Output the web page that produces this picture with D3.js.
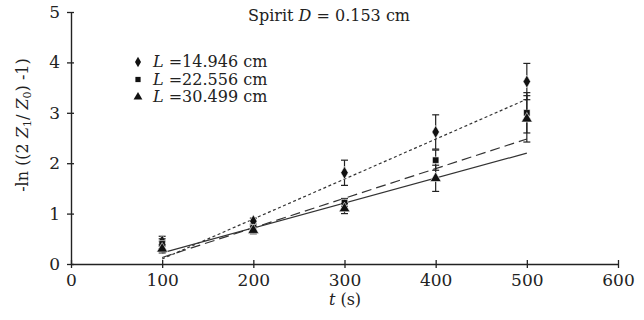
<!DOCTYPE html>
<html>
<head>
<meta charset="utf-8">
<script src="https://cdn.jsdelivr.net/npm/d3@7"></script>
<style>
body { margin: 0; background: #fff; }
svg text { font-family: "DejaVu Serif", "Liberation Serif", "Times New Roman", serif; fill: #222; }
</style>
</head>
<body>
<div id="chart"></div>
<script>
// data
var times = [100, 200, 300, 400, 500];
var xTicks = [0, 100, 200, 300, 400, 500, 600];
var yTicks = [0, 1, 2, 3, 4, 5];

var diamondVals = [0.45, 0.85, 1.81, 2.62, 3.62];
var diamondErr  = [0.10, 0.06, 0.25, 0.34, 0.36];
var squareVals  = [0.40, 0.72, 1.22, 2.06, 3.00];
var squareErr   = [0.10, 0.05, 0.08, 0.20, 0.40];
var triVals     = [0.30, 0.67, 1.10, 1.70, 2.88];
var triErr      = [0.08, 0.07, 0.10, 0.26, 0.46];

// linear trend lines, value at t=100 and t=500
var trendT = [100, 500];
var diamondTrend = [0.10, 3.27];
var squareTrend  = [0.13, 2.48];
var triTrend     = [0.22, 2.20];

var legendLabels = ["14.946", "22.556", "30.499"];

var width = 644, height = 320;
var svg = d3.select("#chart").append("svg")
	.attr("width", width)
	.attr("height", height);

var x = d3.scaleLinear().domain([0, 600]).range([71, 618]);
var y = d3.scaleLinear().domain([0, 5]).range([264, 12]);

// axes
var xAxis = svg.append("g")
	.attr("transform", "translate(0," + y(0) + ")")
	.call(d3.axisBottom(x).tickValues(xTicks).tickFormat(d3.format("d")).tickSizeInner(4).tickSizeOuter(0).tickPadding(6));
xAxis.selectAll(".tick line").attr("y1", -4);

var yAxis = svg.append("g")
	.attr("transform", "translate(" + x(0) + ",0)")
	.call(d3.axisLeft(y).tickValues(yTicks).tickFormat(d3.format("d")).tickSizeInner(4).tickSizeOuter(0).tickPadding(7));
yAxis.selectAll(".tick line").attr("x1", 3);

svg.selectAll(".domain").attr("stroke", "#222").attr("stroke-width", 1.4);
svg.selectAll(".tick line").attr("stroke", "#222").attr("stroke-width", 1.3);
svg.selectAll(".tick text")
	.attr("font-size", "17px")
	.attr("fill", "#222");

// trend lines
var series = [
	{vals: diamondVals, err: diamondErr, trend: diamondTrend, dash: "3,2.5", shape: d3.symbolDiamond, size: 48},
	{vals: squareVals, err: squareErr, trend: squareTrend, dash: "10,5", shape: d3.symbolSquare, size: 42},
	{vals: triVals, err: triErr, trend: triTrend, dash: null, shape: d3.symbolTriangle, size: 52}
];

var line = d3.line()
	.x(function(d) { return x(d[0]); })
	.y(function(d) { return y(d[1]); });

series.forEach(function(s) {
	svg.append("path")
		.datum(trendT.map(function(t, i) { return [t, s.trend[i]]; }))
		.attr("d", line)
		.attr("fill", "none")
		.attr("stroke", "#333")
		.attr("stroke-width", 1.2)
		.attr("stroke-dasharray", s.dash);
});

// error bars and markers
series.forEach(function(s) {
	var g = svg.append("g");
	var pts = times.map(function(t, i) { return {t: t, v: s.vals[i], e: s.err[i]}; });
	var bars = g.selectAll(".eb").data(pts).enter().append("g");
	bars.append("line")
		.attr("x1", function(d) { return x(d.t); })
		.attr("x2", function(d) { return x(d.t); })
		.attr("y1", function(d) { return y(d.v - d.e); })
		.attr("y2", function(d) { return y(d.v + d.e); })
		.attr("stroke", "#222").attr("stroke-width", 1.2);
	[-1, 1].forEach(function(sg) {
		bars.append("line")
			.attr("x1", function(d) { return x(d.t) - 3.5; })
			.attr("x2", function(d) { return x(d.t) + 3.5; })
			.attr("y1", function(d) { return y(d.v + sg * d.e); })
			.attr("y2", function(d) { return y(d.v + sg * d.e); })
			.attr("stroke", "#222").attr("stroke-width", 1.2);
	});
	g.selectAll(".pt").data(pts).enter().append("path")
		.attr("d", d3.symbol().type(s.shape).size(s.size))
		.attr("transform", function(d) { return "translate(" + x(d.t) + "," + y(d.v) + ")"; })
		.attr("fill", "#111")
		.attr("stroke", "#fff")
		.attr("stroke-width", 0.6);
});

// title
var title = svg.append("text")
	.attr("x", 329)
	.attr("y", 21)
	.attr("text-anchor", "middle")
	.attr("font-size", "16px");
title.append("tspan").text("Spirit ");
title.append("tspan").attr("font-style", "italic").text("D");
title.append("tspan").text(" = 0.153 cm");

// legend
var legend = svg.selectAll(".leg").data(series).enter().append("g")
	.attr("transform", function(d, i) { return "translate(138," + (62 + i * 17.5) + ")"; });
legend.append("path")
	.attr("d", function(d) { return d3.symbol().type(d.shape).size(d.size * 0.65)(); })
	.attr("fill", "#111");
var lt = legend.append("text")
	.attr("x", 15)
	.attr("y", 5)
	.attr("font-size", "16px");
lt.append("tspan").attr("font-style", "italic").text("L");
lt.append("tspan").text(function(d, i) { return " =" + legendLabels[i] + " cm"; });

// axis labels
var xl = svg.append("text")
	.attr("x", 345)
	.attr("y", 305)
	.attr("text-anchor", "middle")
	.attr("font-size", "16px");
xl.append("tspan").attr("font-style", "italic").text("t");
xl.append("tspan").text(" (s)");

var yl = svg.append("text")
	.attr("transform", "translate(28,125) rotate(-90)")
	.attr("text-anchor", "middle")
	.attr("font-size", "16px");
yl.append("tspan").text("-ln ((2 ");
yl.append("tspan").attr("font-style", "italic").text("Z");
yl.append("tspan").attr("font-size", "11px").attr("dy", 3).text("1");
yl.append("tspan").attr("dy", -3).text("/ ");
yl.append("tspan").attr("font-style", "italic").text("Z");
yl.append("tspan").attr("font-size", "11px").attr("dy", 3).text("0");
yl.append("tspan").attr("dy", -3).text(") -1)");
</script>
</body>
</html>
